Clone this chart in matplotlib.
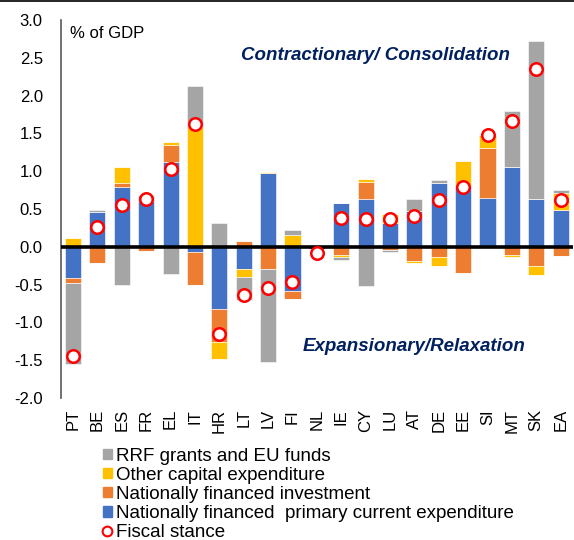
import matplotlib
matplotlib.use("Agg")
import matplotlib.pyplot as plt
from matplotlib.patches import Patch
from matplotlib.lines import Line2D
import numpy as np

plt.rcParams['font.family'] = ['Liberation Sans', 'DejaVu Sans']

countries = ['PT', 'BE', 'ES', 'FR', 'EL', 'IT', 'HR', 'LT', 'LV', 'FI', 'NL',
             'IE', 'CY', 'LU', 'AT', 'DE', 'EE', 'SI', 'MT', 'SK', 'EA']

# components, % of GDP
current = [-0.41, 0.46, 0.79, 0.60, 1.12, -0.07, -0.82, -0.30, 0.98, -0.59, -0.03,
           0.58, 0.63, 0.32, 0.47, 0.85, 0.81, 0.65, 1.05, 0.63, 0.49]
investment = [-0.07, -0.22, 0.06, -0.05, 0.23, -0.43, -0.44, 0.07, -0.30, -0.10, 0.0,
              -0.11, 0.23, -0.04, -0.19, -0.13, -0.35, 0.65, -0.11, -0.25, -0.12]
other_capex = [0.11, 0.0, 0.21, 0.0, 0.04, 1.60, -0.22, -0.10, 0.01, 0.15, 0.0,
               -0.03, 0.03, 0.11, -0.03, -0.13, 0.33, 0.18, -0.02, -0.12, 0.22]
rrf = [-1.07, 0.03, -0.51, 0.08, -0.36, 0.53, 0.31, -0.31, -1.23, 0.07, 0.0,
       -0.04, -0.52, -0.03, 0.16, 0.03, 0.0, 0.0, 0.75, 2.09, 0.04]
fiscal_stance = [-1.44, 0.26, 0.55, 0.63, 1.03, 1.63, -1.16, -0.64, -0.54, -0.46, -0.08,
                 0.38, 0.37, 0.37, 0.41, 0.62, 0.79, 1.48, 1.67, 2.35, 0.62]

series = [current, investment, other_capex, rrf]
colors = ['#4472C4', '#ED7D31', '#FFC000', '#A5A5A5']
labels = ['Nationally financed  primary current expenditure',
          'Nationally financed investment',
          'Other capital expenditure',
          'RRF grants and EU funds']

fig = plt.figure(figsize=(5.74, 5.40), dpi=100)
ax = fig.add_axes([0.106, 0.263, 0.892, 0.700])

x = np.arange(len(countries))
pos_base = np.zeros(len(countries))
neg_base = np.zeros(len(countries))
for vals, c in zip(series, colors):
    v = np.array(vals)
    pos = np.where(v > 0, v, 0)
    neg = np.where(v < 0, v, 0)
    ax.bar(x, pos, 0.66, bottom=pos_base, color=c, edgecolor='white', linewidth=0.4)
    ax.bar(x, neg, 0.66, bottom=neg_base, color=c, edgecolor='white', linewidth=0.4)
    pos_base += pos
    neg_base += neg

ax.axhline(0, color='black', lw=2.6, zorder=3)
ax.plot(x, fiscal_stance, 'o', ms=9, mfc='white', mec='red', mew=1.8, ls='none', zorder=4)

ax.set_xlim(-0.5, len(countries) - 0.5)
ax.set_ylim(-2.0, 3.0)
ax.set_yticks(np.arange(-2.0, 3.01, 0.5))
ax.set_yticklabels(['%.1f' % t for t in np.arange(-2.0, 3.01, 0.5)])
ax.set_xticks(x)
ax.set_xticklabels(countries, rotation=90)
ax.tick_params(axis='both', length=0, labelsize=12)
ax.tick_params(axis='y', pad=13)
ax.tick_params(axis='x', pad=8)
for s in ['top', 'right', 'bottom']:
    ax.spines[s].set_visible(False)
ax.spines['left'].set_color('#595959')
ax.spines['left'].set_linewidth(1.2)

ax.text(0.018, 0.985, '% of GDP', transform=ax.transAxes, fontsize=12, va='top')
ax.text(0.615, 0.907, 'Contractionary/ Consolidation', transform=ax.transAxes,
        fontsize=13.5, fontweight='bold', style='italic', color='#002060', ha='center', va='center')
ax.text(0.69, 0.135, 'Expansionary/Relaxation', transform=ax.transAxes,
        fontsize=13.5, fontweight='bold', style='italic', color='#002060', ha='center', va='center')

handles = [Patch(color=colors[3]), Patch(color=colors[2]), Patch(color=colors[1]),
           Patch(color=colors[0]),
           Line2D([], [], marker='o', ls='none', mfc='white', mec='red', mew=1.5, ms=7)]
names = [labels[3], labels[2], labels[1], labels[0], 'Fiscal stance']
fig.legend(handles, names, loc='upper left', bbox_to_anchor=(0.179, 0.171), frameon=False,
           fontsize=13.5, labelspacing=0.11, handlelength=0.5, handleheight=0.5,
           handletextpad=0.2, borderpad=0, borderaxespad=0)

fig.add_artist(Line2D([0, 1], [0.998, 0.998], color='black', lw=1.2, transform=fig.transFigure))

fig.savefig('out.png', dpi=100)
